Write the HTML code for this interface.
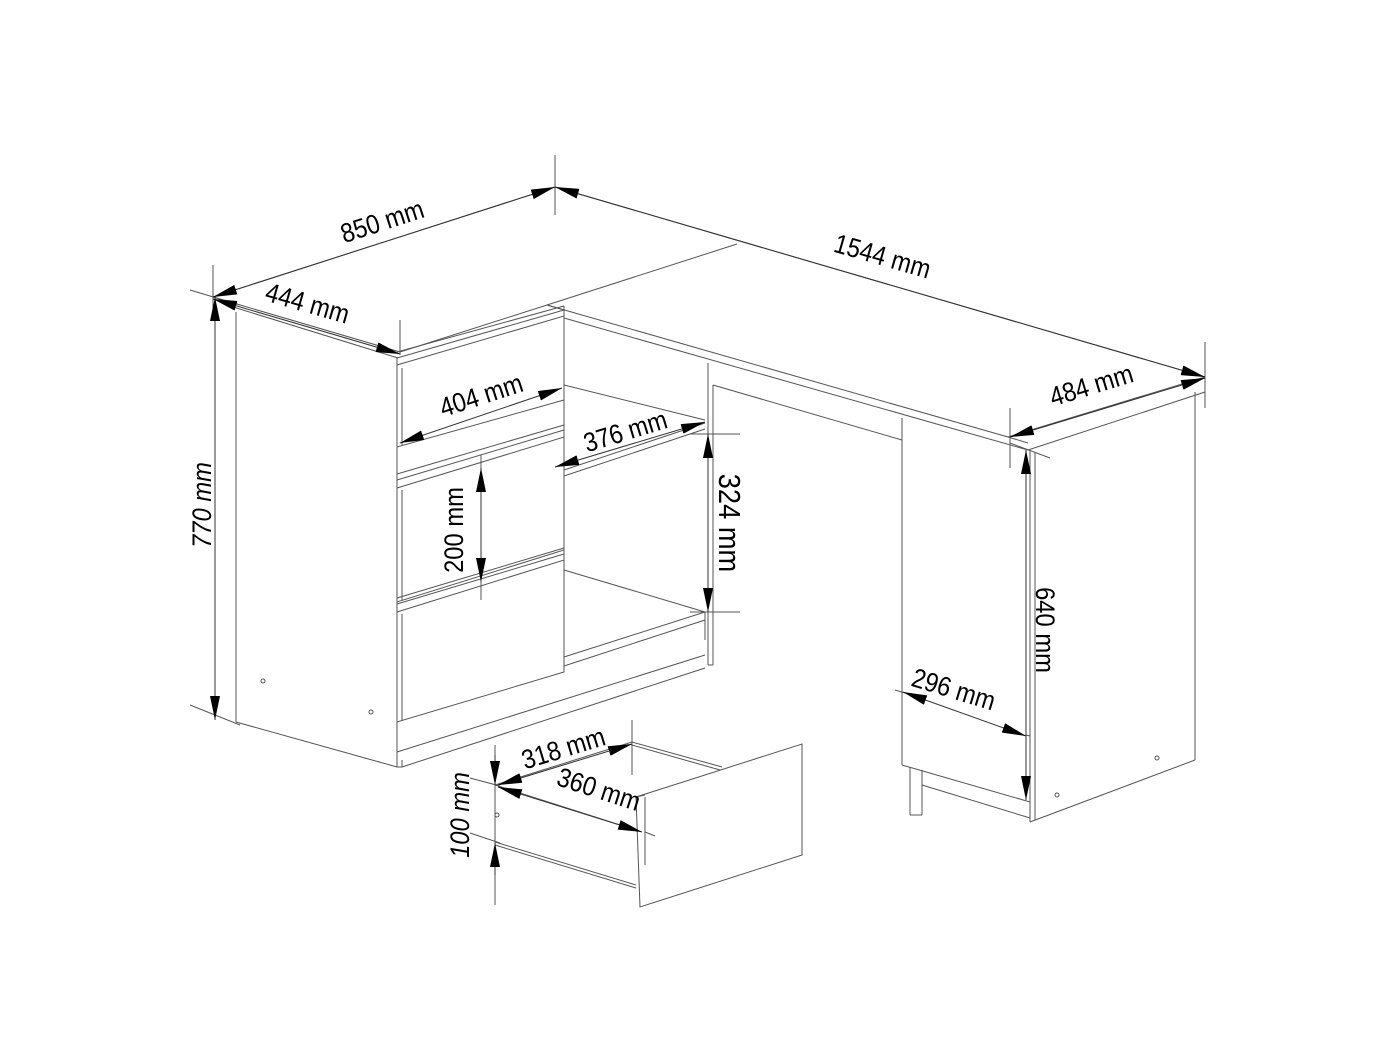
<!DOCTYPE html>
<html><head><meta charset="utf-8"><style>
html,body{margin:0;padding:0;background:#fff;}
svg{display:block;}
text{font-family:"Liberation Sans",sans-serif;font-size:27px;fill:#000;}
</style></head><body>
<svg width="1400" height="1050" viewBox="0 0 1400 1050" xmlns="http://www.w3.org/2000/svg">
<defs>
<marker id="ah" viewBox="0 0 24 10" refX="24" refY="5" markerWidth="24" markerHeight="10" markerUnits="userSpaceOnUse" orient="auto-start-reverse">
<path d="M0,0 L24,5 L0,10 Z" fill="#000"/></marker>
</defs>
<g stroke="#555" stroke-width="1" fill="none">
<line x1="213" y1="297" x2="555" y2="187"/>
<line x1="555" y1="187" x2="1205" y2="377"/>
<line x1="1205" y1="377" x2="1008" y2="437"/>
<line x1="1205" y1="377" x2="1205" y2="392"/>
<line x1="1205" y1="392" x2="1028" y2="450"/>
<line x1="213" y1="297" x2="400" y2="352"/>
<line x1="213" y1="297" x2="213" y2="302"/>
<line x1="230" y1="306" x2="398" y2="358"/>
<line x1="547" y1="305" x2="737" y2="244"/>
<line x1="400" y1="352" x2="547" y2="305"/>
<line x1="547" y1="305" x2="1008" y2="437"/>
<line x1="564" y1="318" x2="1028" y2="450"/>
<line x1="547" y1="305" x2="564" y2="310"/>
<line x1="1008" y1="437" x2="1028" y2="443"/>
<line x1="236" y1="312" x2="236" y2="722"/>
<line x1="236" y1="722" x2="397" y2="767"/>
<line x1="397" y1="358" x2="397" y2="767"/>
<line x1="402" y1="760" x2="402" y2="767"/>
<line x1="397" y1="767" x2="402" y2="767"/>
<line x1="402" y1="767" x2="705" y2="668"/>
<line x1="397" y1="752" x2="705" y2="655"/>
<polygon points="397,365 564,316 564,400 397,447"/>
<polygon points="397,488 564,437 564,550 397,602"/>
<polygon points="397,612 564,560 564,672 397,722"/>
<line x1="397" y1="352" x2="564" y2="306"/>
<line x1="397" y1="358" x2="564" y2="310"/>
<line x1="397" y1="474" x2="564" y2="425"/>
<line x1="397" y1="480" x2="564" y2="430"/>
<line x1="397" y1="598" x2="564" y2="548"/>
<line x1="397" y1="604" x2="564" y2="554"/>
<line x1="402" y1="368" x2="402" y2="445"/>
<line x1="402" y1="490" x2="402" y2="600"/>
<line x1="402" y1="614" x2="402" y2="720"/>
<line x1="564" y1="306" x2="564" y2="672"/>
<line x1="708" y1="363" x2="708" y2="665"/>
<line x1="713" y1="385" x2="713" y2="665"/>
<line x1="708" y1="665" x2="713" y2="665"/>
<line x1="564" y1="470" x2="705" y2="423"/>
<line x1="564" y1="476" x2="705" y2="429"/>
<line x1="564" y1="385" x2="705" y2="420"/>
<line x1="564" y1="570" x2="705" y2="612"/>
<line x1="564" y1="657" x2="705" y2="612"/>
<line x1="564" y1="666" x2="705" y2="620"/>
<line x1="705" y1="612" x2="705" y2="640"/>
<line x1="713" y1="385" x2="902" y2="440"/>
<line x1="902" y1="418" x2="902" y2="765"/>
<line x1="902" y1="765" x2="1030" y2="802"/>
<line x1="1030" y1="450" x2="1030" y2="822"/>
<line x1="1035" y1="452" x2="1035" y2="820"/>
<line x1="1195" y1="392" x2="1195" y2="760"/>
<line x1="1030" y1="822" x2="1195" y2="760"/>
<line x1="910" y1="767" x2="910" y2="815"/>
<line x1="922" y1="770" x2="922" y2="815"/>
<line x1="910" y1="815" x2="922" y2="815"/>
<line x1="922" y1="785" x2="1030" y2="818"/>
<circle cx="1157" cy="758" r="2"/>
<circle cx="1057" cy="795" r="2"/>
<circle cx="263" cy="681" r="2"/>
<circle cx="371" cy="712" r="2"/>
<circle cx="497" cy="815" r="2"/>
<polygon points="636,797 802,744 802,855 640,907"/>
<line x1="645" y1="797" x2="645" y2="865"/>
<line x1="636" y1="797" x2="645" y2="795"/>
<line x1="495" y1="785" x2="632" y2="742"/>
<line x1="632" y1="742" x2="722" y2="767"/>
<line x1="632" y1="745" x2="720" y2="770"/>
<line x1="495" y1="785" x2="636" y2="830"/>
<line x1="495" y1="842" x2="636" y2="885"/>
<line x1="495" y1="845" x2="636" y2="888"/>
<line x1="632" y1="742" x2="632" y2="775"/>
<line x1="555" y1="155" x2="555" y2="215"/>
<line x1="213" y1="265" x2="213" y2="310" />
<line x1="190" y1="290" x2="240" y2="305"/>
<line x1="190" y1="705" x2="240" y2="725"/>
<line x1="400" y1="320" x2="400" y2="355"/>
<line x1="1205" y1="342" x2="1205" y2="408"/>
<line x1="1010" y1="408" x2="1010" y2="468"/>
<line x1="1010" y1="443" x2="1050" y2="458"/>
<line x1="690" y1="434" x2="740" y2="434"/>
<line x1="690" y1="612" x2="740" y2="612"/>
<line x1="708" y1="408" x2="708" y2="425"/>
<line x1="481" y1="455" x2="481" y2="600"/>
<line x1="495" y1="745" x2="495" y2="905"/>
<line x1="470" y1="778" x2="500" y2="786"/>
<line x1="470" y1="833" x2="500" y2="843"/>
<line x1="632" y1="720" x2="632" y2="745"/>
<line x1="645" y1="832" x2="655" y2="836"/>
<line x1="895" y1="690" x2="905" y2="693"/>
<line x1="1026" y1="735" x2="1030" y2="736"/>
</g>
<g stroke="#333" stroke-width="1" fill="none" marker-start="url(#ah)" marker-end="url(#ah)">
<line x1="215" y1="297" x2="215" y2="720"/>
<line x1="213" y1="297" x2="555" y2="187"/>
<line x1="555" y1="187" x2="1205" y2="377"/>
<line x1="213" y1="299" x2="400" y2="354"/>
<line x1="1010" y1="437" x2="1205" y2="378"/>
<line x1="400" y1="443" x2="562" y2="388"/>
<line x1="555" y1="467" x2="705" y2="422"/>
<line x1="708" y1="434" x2="708" y2="612"/>
<line x1="481" y1="468" x2="481" y2="582"/>
<line x1="498" y1="785" x2="632" y2="744"/>
<line x1="498" y1="787" x2="642" y2="832"/>
<line x1="1026" y1="450" x2="1026" y2="800"/>
<line x1="903" y1="692" x2="1026" y2="736"/>
</g>
<g stroke="#333" stroke-width="1">
<line x1="495" y1="755" x2="495" y2="785" marker-end="url(#ah)"/>
<line x1="495" y1="875" x2="495" y2="843" marker-end="url(#ah)"/>
</g>
<text transform="translate(385,230) rotate(-18) scale(0.88,1)" text-anchor="middle">850 mm</text>
<text transform="translate(880,265) rotate(16) scale(0.88,1)" text-anchor="middle">1544 mm</text>
<text transform="translate(305,312) rotate(16) scale(0.88,1)" text-anchor="middle">444 mm</text>
<text transform="translate(1094,394) rotate(-17) scale(0.88,1)" text-anchor="middle">484 mm</text>
<text transform="translate(484,404) rotate(-18) scale(0.88,1)" text-anchor="middle">404 mm</text>
<text transform="translate(628,440) rotate(-17) scale(0.88,1)" text-anchor="middle">376 mm</text>
<text transform="translate(719,523) rotate(90) scale(0.88,1)" text-anchor="middle" style="font-size:31px">324 mm</text>
<text transform="translate(463,530) rotate(-90) scale(0.88,1)" text-anchor="middle">200 mm</text>
<text transform="translate(211,505) rotate(-90) scale(0.88,1)" text-anchor="middle" font-style="italic">770 mm</text>
<text transform="translate(566,757) rotate(-17) scale(0.88,1)" text-anchor="middle">318 mm</text>
<text transform="translate(596,798) rotate(18) scale(0.88,1)" text-anchor="middle">360 mm</text>
<text transform="translate(469,815) rotate(-90) scale(0.88,1)" text-anchor="middle" font-style="italic">100 mm</text>
<text transform="translate(1036,630) rotate(90) scale(0.88,1)" text-anchor="middle">640 mm</text>
<text transform="translate(951,698) rotate(17) scale(0.88,1)" text-anchor="middle">296 mm</text>
</svg>
</body></html>
